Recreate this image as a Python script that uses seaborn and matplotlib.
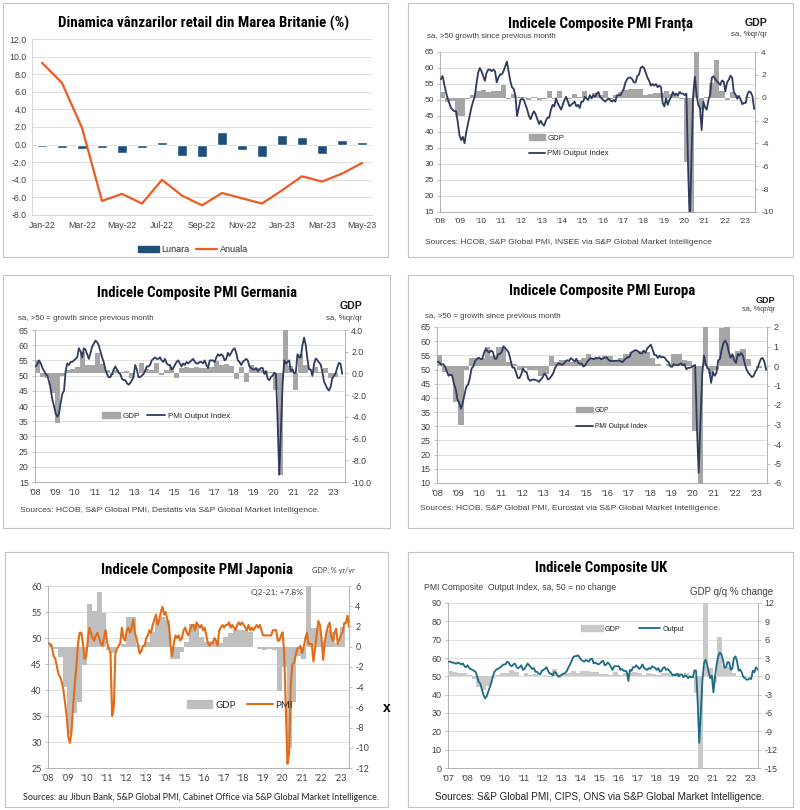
import numpy as np
import matplotlib
matplotlib.use('Agg')
import matplotlib.pyplot as plt
import seaborn as sns
from matplotlib import font_manager
from matplotlib.patches import Rectangle, Patch
from matplotlib.lines import Line2D

# ---- retail sales UK (monthly / yearly % change) ----
months = ['Jan-22', 'Feb-22', 'Mar-22', 'Apr-22', 'May-22', 'Jun-22', 'Jul-22', 'Aug-22', 'Sep-22',
          'Oct-22', 'Nov-22', 'Dec-22', 'Jan-23', 'Feb-23', 'Mar-23', 'Apr-23', 'May-23']
lunara = [-0.3, -0.4, -0.5, -0.4, -0.9, -0.4, 0.3, -1.3, -1.4, 1.4, -0.6, -1.4, 1.1, 0.9, -1.1, 0.5, 0.3]
anuala = [9.3, 7.0, 1.9, -6.4, -5.6, -6.7, -4.0, -5.8, -6.9, -5.5, -6.1, -6.7, -5.2, -3.6, -4.2, -3.3, -2.1]

# ---- France: composite PMI monthly from Jan-2008, GDP q/q from Q1-2008 ----
fr_pmi = [56.5, 57.5, 55.0, 52.5, 50.5, 49.0, 47.5, 47.0, 46.5, 46.5, 43.0, 39.0,
          37.5, 38.5, 36.5, 40.0, 42.5, 45.0, 47.5, 49.5, 51.0, 55.0, 58.5, 60.0,
          59.0, 57.5, 56.0, 58.5, 59.5, 59.5, 59.0, 59.5, 59.0, 55.5, 57.0, 58.0,
          58.0, 59.0, 60.5, 62.0, 59.0, 56.0, 54.0, 53.5, 51.5, 45.0, 47.5, 50.0,
          50.5, 50.0, 48.5, 47.0, 45.0, 44.0, 45.5, 46.5, 45.5, 44.0, 42.5, 43.5,
          42.5, 42.0, 43.5, 44.5, 44.5, 47.0, 48.5, 48.0, 50.5, 49.0, 48.0, 47.0,
          48.5, 50.0, 51.0, 49.5, 48.0, 48.5, 49.0, 49.5, 48.0, 48.5, 47.5, 49.5,
          49.5, 51.0, 50.5, 50.0, 51.5, 50.5, 51.5, 51.0, 52.0, 52.5, 51.0, 50.5,
          50.0, 49.5, 50.0, 50.5, 50.0, 49.5, 50.0, 49.5, 51.5, 51.5, 51.5, 52.5,
          53.5, 55.5, 56.5, 57.0, 57.0, 56.5, 55.5, 55.5, 57.5, 58.0, 60.0, 60.5,
          60.0, 58.5, 57.0, 56.0, 54.5, 55.0, 54.5, 55.0, 54.0, 54.5, 54.0, 49.0,
          48.0, 50.5, 48.5, 50.0, 51.0, 52.5, 51.5, 52.0, 51.5, 52.5, 52.0, 52.0,
          51.5, 52.0, 28.9, 11.1, 32.1, 51.7, 57.3, 51.6, 48.5, 47.5, 40.6, 49.5,
          47.7, 47.0, 50.0, 51.6, 57.0, 57.4, 56.6, 55.9, 55.3, 54.7, 56.1, 55.8,
          52.7, 55.5, 56.3, 57.6, 57.0, 52.5, 51.7, 50.4, 51.2, 50.2, 48.7, 49.1,
          49.1, 51.7, 52.7, 52.4, 51.2, 47.2]
fr_gdp = [0.5, -0.4, -0.3, -1.6, -1.6, -0.1, 0.2, 0.6, 0.7, 0.5, 0.6, 0.6,
          1.1, -0.1, 0.3, 0.1, 0.1, -0.2, 0.1, -0.2, -0.1, 0.6, -0.1, 0.6,
          0.0, -0.1, 0.3, 0.1, 0.6, 0.0, 0.4, 0.2, 0.6, -0.1, 0.2, 0.5,
          0.7, 0.8, 0.8, 0.8, 0.2, 0.3, 0.4, 0.4, 0.6, 0.3, 0.2, -0.1,
          -5.6, -13.5, 18.5, -1.1, 0.1, 1.3, 3.3, 0.6, -0.2, 0.5, 0.2, 0.0, 0.1]

# ---- Germany ----
de_pmi = [53.0, 54.0, 55.0, 54.0, 52.5, 51.5, 50.5, 50.0, 48.0, 45.5, 42.0, 40.0,
          37.5, 36.5, 37.5, 41.0, 44.0, 45.0, 51.5, 54.0, 53.5, 54.5, 54.5, 55.0,
          55.5, 56.0, 59.0, 58.0, 56.0, 59.0, 58.5, 57.0, 55.5, 57.5, 59.5, 60.5,
          61.5, 61.0, 60.0, 58.0, 56.0, 54.5, 52.0, 50.5, 49.5, 49.5, 50.5, 52.0,
          53.0, 52.0, 51.0, 50.5, 49.0, 48.5, 48.5, 47.5, 47.0, 47.5, 48.5, 49.5,
          53.5, 52.0, 49.5, 49.5, 50.0, 50.5, 51.5, 53.0, 53.0, 53.5, 55.0, 55.5,
          56.0, 55.5, 55.5, 56.0, 55.0, 54.5, 55.5, 54.0, 53.5, 53.5, 52.0, 52.5,
          53.5, 54.5, 55.0, 54.0, 53.0, 54.0, 53.5, 54.5, 54.0, 54.5, 55.0, 55.5,
          54.5, 54.0, 54.0, 54.5, 54.5, 54.0, 55.0, 53.5, 52.5, 55.0, 55.0, 55.0,
          54.5, 56.0, 57.0, 56.5, 57.0, 56.5, 55.0, 55.5, 57.5, 56.5, 57.5, 58.5,
          59.0, 57.5, 55.0, 54.5, 53.5, 54.5, 55.0, 55.5, 55.0, 53.0, 52.5, 52.0,
          52.0, 52.5, 51.5, 52.0, 52.5, 52.5, 50.5, 51.5, 49.0, 48.5, 49.5, 50.0,
          51.0, 50.5, 35.0, 17.4, 32.0, 47.0, 55.0, 54.0, 54.5, 55.0, 51.5, 52.0,
          50.8, 51.0, 57.0, 56.0, 56.0, 60.0, 62.5, 60.0, 55.5, 52.0, 52.0, 49.9,
          53.8, 55.6, 55.1, 54.3, 53.7, 51.3, 48.1, 46.9, 45.7, 45.1, 46.3, 49.0,
          49.9, 50.7, 52.6, 54.2, 53.9, 50.6]
de_gdp = [1.2, -0.3, -0.4, -1.8, -4.6, -0.2, 0.3, 0.4, 0.6, 2.0, 0.8, 0.8,
          1.9, 0.9, 0.3, -0.1, 0.3, 0.1, 0.2, -0.4, 0.0, 1.0, 0.4, 0.3,
          1.0, -0.1, 0.3, 0.6, -0.45, 0.5, 0.6, 0.5, 0.6, 0.5, 0.5, 0.6,
          1.1, 0.8, 0.9, 0.7, -0.55, 0.6, -0.75, 0.8, 0.5, 0.3, 0.2, 0.1,
          -1.5, -9.4, 8.7, 0.7, -1.5, 1.8, 0.8, 0.0, 0.6, 0.1, 0.5, -0.4, -0.3]

# ---- Eurozone ----
ez_pmi = [52.8, 52.3, 51.7, 51.9, 51.1, 49.5, 47.8, 48.2, 48.0, 45.1, 43.2, 39.5,
          38.3, 36.2, 38.3, 41.1, 44.0, 44.6, 47.0, 50.4, 51.1, 53.0, 53.7, 54.2,
          53.7, 53.7, 55.9, 57.3, 56.4, 56.0, 56.7, 56.2, 53.8, 53.8, 55.4, 55.5,
          56.3, 58.2, 57.5, 56.8, 55.8, 53.3, 50.7, 50.7, 49.1, 47.1, 47.0, 48.3,
          50.4, 49.3, 49.1, 46.7, 46.0, 46.4, 46.5, 46.3, 46.1, 45.7, 46.5, 47.2,
          48.6, 47.9, 46.5, 46.9, 47.7, 48.7, 50.5, 51.5, 52.2, 51.9, 51.7, 52.1,
          52.9, 53.3, 53.1, 54.0, 53.5, 52.8, 53.8, 52.5, 52.0, 52.1, 51.1, 51.4,
          52.6, 53.3, 54.0, 53.9, 53.6, 54.2, 53.9, 54.3, 53.6, 53.9, 54.2, 54.3,
          53.6, 53.0, 53.1, 53.0, 53.1, 53.1, 53.2, 52.9, 52.6, 53.3, 53.9, 54.4,
          54.4, 56.0, 56.4, 56.8, 56.8, 56.3, 55.7, 55.7, 56.7, 55.9, 57.5, 58.1,
          58.8, 57.1, 55.2, 55.1, 54.1, 54.9, 54.3, 54.5, 54.1, 53.1, 52.7, 51.1,
          51.0, 51.9, 51.6, 51.5, 51.8, 52.2, 51.5, 51.9, 50.1, 50.6, 50.6, 50.9,
          51.3, 51.6, 29.7, 13.6, 31.9, 48.5, 54.9, 51.9, 50.4, 50.0, 45.3, 49.1,
          47.8, 48.8, 53.2, 53.8, 57.1, 59.5, 60.2, 59.0, 56.2, 54.2, 55.4, 53.3,
          52.3, 55.5, 54.9, 55.8, 54.8, 52.0, 49.9, 48.9, 48.1, 47.3, 47.8, 49.3,
          50.3, 52.0, 53.7, 54.1, 52.8, 49.9]
ez_gdp = [0.55, -0.3, -0.5, -1.85, -3.0, -0.2, 0.4, 0.4, 0.4, 1.0, 0.5, 1.0,
          1.0, 0.2, 0.1, -0.2, -0.1, -0.2, -0.2, -0.5, -0.4, 0.5, 0.2, 0.3,
          0.3, 0.2, 0.3, 0.4, 0.6, 0.4, 0.4, 0.5, 0.5, 0.3, 0.4, 0.6,
          0.7, 0.75, 0.75, 0.7, 0.4, 0.1, 0.0, 0.1, 0.6, 0.6, 0.3, 0.25,
          -3.35, -11.5, 12.5, -0.4, -0.2, 1.95, 2.05, 0.5, 0.75, 0.85, 0.35, 0.0, -0.1]

# ---- Japan (GDP y/y) ----
jp_pmi = [49.0, 48.8, 48.0, 46.5, 46.0, 44.5, 43.0, 42.5, 41.5, 40.0, 37.5, 35.0,
          31.0, 29.8, 32.0, 37.0, 41.0, 44.5, 49.0, 51.0, 51.0, 49.0, 46.0, 46.5,
          49.5, 52.0, 51.0, 50.0, 49.5, 50.5, 51.0, 50.0, 49.0, 48.5, 50.0, 51.5,
          49.0, 48.0, 47.0, 35.0, 36.5, 47.0, 48.0, 48.5, 49.0, 52.0, 50.0, 49.5,
          51.5, 52.0, 51.0, 52.0, 53.5, 51.0, 50.0, 48.5, 47.0, 47.5, 48.5, 48.5,
          50.0, 50.5, 51.5, 51.0, 52.5, 53.5, 54.5, 52.5, 53.5, 55.0, 56.0, 54.5,
          55.0, 53.5, 52.5, 48.5, 46.5, 49.0, 50.5, 50.0, 50.5, 49.5, 50.0, 51.5,
          52.0, 51.0, 50.5, 51.5, 52.5, 52.5, 51.5, 53.0, 52.5, 52.0, 52.5, 51.5,
          52.0, 50.5, 49.0, 48.5, 49.0, 49.0, 50.0, 49.5, 48.5, 51.5, 52.0, 52.5,
          52.0, 52.5, 52.5, 53.0, 52.0, 52.5, 52.0, 51.5, 52.5, 53.0, 52.5, 53.0,
          52.5, 52.0, 51.5, 52.5, 51.5, 52.0, 51.5, 52.0, 52.5, 52.0, 52.5, 51.5,
          50.5, 50.5, 50.5, 50.5, 50.5, 50.5, 51.5, 51.5, 51.5, 49.5, 49.5, 50.5,
          51.1, 47.0, 36.2, 25.8, 27.8, 40.8, 44.9, 45.2, 46.6, 48.0, 48.1, 48.5,
          47.1, 48.2, 49.9, 51.0, 48.8, 48.9, 48.8, 45.5, 47.9, 50.7, 53.3, 52.5,
          49.9, 45.8, 49.3, 51.1, 52.3, 53.0, 50.2, 49.4, 51.0, 51.8, 48.9, 49.7,
          50.7, 51.1, 52.9, 52.9, 54.3, 52.1]
jp_gdp = [0.3, -0.2, -1.0, -4.0, -8.6, -6.6, -5.5, -1.8, 4.2, 3.5, 5.4, 3.3,
          -0.3, -0.6, 0.0, 0.3, 2.9, 2.9, 0.2, 0.0, 0.5, 1.5, 2.6, 2.9,
          2.6, -1.2, -1.2, -0.5, 0.5, 2.2, 2.2, 1.0, 0.5, 0.6, 0.5, 0.4,
          1.0, 1.4, 1.6, 1.6, 1.6, 1.5, 0.0, -0.2, -0.3, -0.2, -0.3, -4.4,
          -2.0, -10.0, -5.5, -0.9, -1.2, 7.8, 1.8, 1.8, 0.5, 1.6, 1.5, 0.4, 1.9]

# ---- UK, monthly from Jan-2007 ----
uk_pmi = [58.0, 58.0, 57.5, 57.5, 57.0, 57.0, 57.5, 57.0, 56.5, 57.0, 55.5, 55.0,
          56.0, 54.5, 54.0, 53.5, 53.0, 52.5, 50.0, 47.0, 46.0, 43.0, 40.0, 38.0,
          39.0, 41.5, 44.0, 46.5, 50.0, 52.5, 53.5, 54.0, 54.5, 55.0, 56.0, 56.5,
          56.5, 58.0, 57.5, 56.0, 55.5, 56.5, 57.0, 55.0, 54.5, 55.0, 56.0, 53.5,
          54.0, 55.5, 57.0, 56.0, 55.0, 54.0, 54.5, 52.5, 52.5, 51.5, 51.0, 53.0,
          53.5, 54.0, 55.0, 53.0, 51.5, 51.5, 50.5, 52.5, 52.0, 50.5, 50.0, 50.5,
          51.0, 51.5, 52.0, 53.0, 55.0, 56.5, 58.5, 60.5, 61.0, 61.0, 61.5, 60.5,
          59.0, 58.5, 58.0, 59.0, 58.5, 58.0, 59.5, 59.5, 57.0, 57.5, 57.0, 56.5,
          57.0, 58.0, 58.5, 56.0, 56.5, 57.5, 56.5, 55.0, 53.5, 55.5, 55.5, 55.5,
          55.5, 53.5, 54.0, 53.0, 53.0, 52.5, 47.5, 53.5, 53.0, 55.0, 55.0, 56.0,
          55.0, 54.0, 55.0, 56.5, 54.5, 54.0, 53.5, 54.5, 54.0, 55.5, 55.0, 54.5,
          53.5, 54.5, 52.5, 53.0, 54.5, 55.0, 53.5, 54.0, 53.0, 52.0, 50.5, 51.0,
          50.5, 51.5, 50.0, 51.0, 51.0, 49.5, 50.5, 50.0, 49.0, 50.0, 49.5, 49.5,
          53.3, 53.0, 36.0, 13.8, 30.0, 47.7, 57.0, 59.1, 56.5, 52.1, 49.0, 50.4,
          41.2, 49.6, 56.4, 60.7, 62.9, 62.2, 59.2, 54.8, 54.9, 57.8, 57.6, 53.6,
          54.2, 59.9, 60.9, 58.2, 53.1, 53.7, 52.1, 49.6, 49.1, 48.2, 48.2, 49.0,
          48.5, 53.1, 52.2, 54.9, 54.0, 52.8]
uk_gdp = [0.9, 0.7, 0.6, 0.5, 0.3, -0.5, -1.7, -2.2, -1.6, -0.2, 0.2, 0.5,
          0.6, 1.0, 0.7, 0.1, 0.5, 0.2, 0.4, 0.1, 0.2, -0.1, 1.2, -0.2,
          0.5, 0.6, 0.8, 0.5, 0.9, 0.8, 0.7, 0.7, 0.4, 0.4, 0.3, 0.7,
          0.3, 0.5, 0.5, 0.7, 0.6, 0.3, 0.5, 0.4, 0.2, 0.5, 0.6, 0.2,
          0.6, -0.1, 0.5, 0.0, -2.7, -21.0, 16.9, 1.3, -1.1, 6.5, 1.7, 1.5,
          0.5, 0.1, -0.1, 0.1, 0.1]

W, H = 800, 810

sns.set_style('white')
plt.rcParams['font.family'] = ['Liberation Sans', 'DejaVu Sans']
plt.rcParams['axes.unicode_minus'] = False

# a narrow bold face for the titles, whichever is installed
_fonts = font_manager.fontManager.ttflist
_names = {f.name for f in _fonts}
TITLE_KW = {'family': ['Roboto', 'DejaVu Sans'], 'fontweight': 'bold'}
for cand in ['Liberation Sans Narrow', 'Roboto Condensed', 'Open Sans Condensed']:
    if cand in _names:
        TITLE_KW = {'family': [cand, 'DejaVu Sans'], 'fontweight': 'bold'}
        break
else:
    if any(f.name == 'DejaVu Sans' and f.stretch == 'condensed' for f in _fonts):
        TITLE_KW = {'family': ['DejaVu Sans'], 'fontweight': 'bold', 'fontstretch': 'condensed'}

fig = plt.figure(figsize=(8, 8.1), dpi=100)
renderer = fig.canvas.get_renderer()


def rect(l, t, r, b):
    return [l / W, 1 - b / H, (r - l) / W, (b - t) / H]


def put(x, y, s, **kw):
    kw.setdefault('va', 'center')
    kw.setdefault('color', '#404040')
    return fig.text(x / W, 1 - y / H, s, **kw)


def fpos(x, y):
    return (x / W, 1 - y / H)


def title(x, y, s, width_px):
    # scale the title so it spans the same width as in the source picture
    t = put(x, y, s, ha='center', fontsize=12, color='black', **TITLE_KW)
    w = t.get_window_extent(renderer).width
    t.set_fontsize(min(12 * width_px / w, 12))
    return t


# panel frames
for l, t, r, b in [(3, 3, 388, 257), (408, 3, 793, 257), (3, 275, 390, 528),
                   (408, 275, 793, 528), (5, 552, 388, 807), (408, 552, 793, 807)]:
    fig.add_artist(Rectangle((l / W, 1 - b / H), (r - l) / W, (b - t) / H,
                             transform=fig.transFigure, fill=False, ec='#C3C3C3', lw=0.8))

# ---------------- retail sales panel ----------------
ax = fig.add_axes(rect(32, 39, 372, 215))
sns.barplot(x=months, y=lunara, color='#1F4E79', width=0.5, saturation=1, ax=ax)
sns.lineplot(x=np.arange(len(months)), y=anuala, color='#EE5A24', lw=1.6, ax=ax)
ax.set_xlim(-0.5, len(months) - 0.5)
ax.set_ylim(-8, 12)
ax.set_yticks(np.arange(-8, 13, 2))
ax.yaxis.set_major_formatter('{x:.1f}')
ax.set_xticks(range(0, len(months), 2))
ax.set_xticklabels(months[::2])
ax.set_xlabel('')
ax.set_ylabel('')
ax.grid(axis='y', color='#D9D9D9', lw=0.6)
ax.set_axisbelow(True)
ax.tick_params(labelsize=6.3, labelcolor='#404040', length=0, pad=4)
for s in ['top', 'right']:
    ax.spines[s].set_visible(False)
for s in ['left', 'bottom']:
    ax.spines[s].set_color('#D0D0D0')
    ax.spines[s].set_linewidth(0.6)
ax.legend([Patch(color='#1F4E79'), Line2D([], [], color='#EE5A24', lw=1.6)], ['Lunara', 'Anuala'],
          loc='center', bbox_to_anchor=fpos(193, 250), bbox_transform=fig.transFigure, ncol=2,
          frameon=False, fontsize=6.5, handlelength=2.3, handleheight=0.6, handletextpad=0.3,
          columnspacing=0.7, borderpad=0)
title(204, 23, 'Dinamica vânzarilor retail din Marea Britanie (%)', 292)


# ---------------- PMI panels ----------------
def pmi_panel(box, start, pmi, gdp, xlim, yl, yl_step, yr, yr_step, line_color, bar_color,
              rfmt='{x:.0f}', tick_size=6.0, font=None, lw=1.3):
    ax = fig.add_axes(rect(*box))
    ax_gdp = ax.twinx()
    ax_pmi = ax.twinx()
    t_m = start + (np.arange(len(pmi)) + 0.5) / 12
    t_q = start + np.arange(len(gdp)) / 4
    ax_gdp.bar(t_q, gdp, width=0.25, align='edge', color=bar_color, lw=0)
    sns.lineplot(x=t_m, y=pmi, ax=ax_pmi, color=line_color, lw=lw)

    ax.set_xlim(*xlim)
    ax.set_ylim(*yl)
    ax_pmi.set_ylim(*yl)
    ax_gdp.set_ylim(*yr)
    ax.set_yticks(np.arange(yl[0], yl[1] + 0.01, yl_step))
    ax_gdp.set_yticks(np.arange(yr[0], yr[1] + 0.01, yr_step))
    ax_gdp.yaxis.set_major_formatter(rfmt)
    ax_pmi.set_yticks([])
    years = np.arange(int(np.ceil(xlim[0])), int(xlim[1]) + 1)
    ax.set_xticks(years)
    ax.set_xticklabels(["'%02d" % (y % 100) for y in years])
    ax.grid(axis='y', color='#D9D9D9', lw=0.6)
    ax.set_axisbelow(True)
    for a in (ax, ax_gdp, ax_pmi):
        a.set_xlabel('')
        a.set_ylabel('')
        for s in a.spines.values():
            s.set_visible(False)
            s.set_color('#A6A6A6')
            s.set_linewidth(0.6)
        a.tick_params(labelsize=tick_size, labelcolor='#404040', color='#A6A6A6',
                      length=2.5, width=0.5, pad=2, direction='out')
        if font:
            for lab in a.get_xticklabels() + a.get_yticklabels():
                lab.set_family(font)
    ax.spines['left'].set_visible(True)
    ax.spines['bottom'].set_visible(True)
    ax_gdp.spines['right'].set_visible(True)
    # the top layer carries the legend so the line never hides its text
    return ax_pmi


NAVY = '#2E3A5E'

# France
top = pmi_panel((440, 52, 755, 212), 2008, fr_pmi, fr_gdp, (2008, 2023.5), (15, 65), 5, (-10, 4), 2,
                NAVY, '#A6A6A6')
top.legend([Patch(color='#A6A6A6'), Line2D([], [], color=NAVY, lw=1.3)], ['GDP', 'PMI Output Index'],
           loc='upper left', bbox_to_anchor=fpos(529, 134), bbox_transform=fig.transFigure,
           frameon=False, fontsize=5.7, handlelength=2.0, handleheight=0.7, handletextpad=0.3,
           labelspacing=1.05, borderpad=0, borderaxespad=0)
title(601, 24, 'Indicele Composite PMI Franța', 185)
put(767, 23, 'GDP', ha='right', fontweight='bold', fontsize=7.6, color='#1A1A1A')
put(767, 35, 'sa, %qr/qr', ha='right', fontsize=5.7)
put(427, 37, 'sa, >50 growth since previous month', ha='left', fontsize=5.7)
put(425, 242, 'Sources: HCOB, S&P Global PMI, INSEE via S&P Global Market Intelligence',
    ha='left', fontsize=6.0)

# Germany
top = pmi_panel((35, 330, 345, 482), 2008, de_pmi, de_gdp, (2008, 2023.6), (15, 65), 5, (-10, 4), 2,
                NAVY, '#A6A6A6', rfmt='{x:.1f}', tick_size=6.3)
top.legend([Patch(color='#A6A6A6'), Line2D([], [], color=NAVY, lw=1.3)], ['GDP', 'PMI Output Index'],
           loc='center left', bbox_to_anchor=fpos(102, 416), bbox_transform=fig.transFigure, ncol=2,
           frameon=False, fontsize=5.8, handlelength=2.2, handleheight=0.7, handletextpad=0.3,
           columnspacing=1.0, borderpad=0, borderaxespad=0)
title(197, 293, 'Indicele Composite PMI Germania', 200)
put(362, 306, 'GDP', ha='right', fontweight='bold', fontsize=7.6, color='#1A1A1A')
put(362, 318, 'sa, %qr/qr', ha='right', fontsize=5.7)
put(18, 318, 'sa, >50 = growth since previous month', ha='left', fontsize=5.7)
put(20, 510, 'Sources: HCOB, S&P Global PMI, Destatis via S&P Global Market Intelligence.',
    ha='left', fontsize=6.1)

# Eurozone
top = pmi_panel((437, 327, 767, 483), 2008, ez_pmi, ez_gdp, (2008, 2023.5), (10, 65), 5, (-6, 2), 1,
                NAVY, '#A6A6A6', tick_size=6.5)
top.legend([Patch(color='#A6A6A6'), Line2D([], [], color=NAVY, lw=1.3)], ['GDP', 'PMI Output Index'],
           loc='upper left', bbox_to_anchor=fpos(576, 407), bbox_transform=fig.transFigure,
           frameon=False, fontsize=4.8, handlelength=2.5, handleheight=0.7, handletextpad=0.3,
           labelspacing=1.4, borderpad=0, borderaxespad=0)
title(602, 291, 'Indicele Composite PMI Europa', 187)
put(775, 301, 'GDP', ha='right', fontweight='bold', fontsize=6.5, color='#1A1A1A')
put(775, 310, 'sa, %qr/qr', ha='right', fontsize=5.3)
put(425, 317, 'sa, >50 = growth since previous month', ha='left', fontsize=5.7)
put(420, 509, 'Sources: HCOB, S&P Global PMI, Eurostat via S&P Global Market Intelligence.',
    ha='left', fontsize=6.1)

# Japan
JP_ORANGE = '#E36C14'
LATO = ['Lato', 'DejaVu Sans']
top = pmi_panel((48, 586, 349, 768), 2008, jp_pmi, jp_gdp, (2008, 2023.45), (25, 60), 5, (-12, 6), 2,
                JP_ORANGE, '#BFBFBF', tick_size=6.5, font=LATO, lw=1.5)
top.legend([Patch(color='#BFBFBF'), Line2D([], [], color=JP_ORANGE, lw=1.5)], ['GDP', 'PMI'],
           loc='center left', bbox_to_anchor=fpos(187, 705), bbox_transform=fig.transFigure, ncol=2,
           frameon=False, prop={'family': LATO, 'size': 7}, handlelength=2.6,
           handleheight=0.8, handletextpad=0.3, columnspacing=1.2, borderpad=0, borderaxespad=0)
title(197, 570, 'Indicele Composite PMI Japonia', 193)
put(312, 570, 'GDP, % yr/yr', ha='left', fontsize=5.3, family=LATO)
put(277, 593, 'Q2-21: +7.8%', ha='center', fontsize=6, family=LATO)
put(23, 798, 'Sources: au Jibun Bank, S&P Global PMI, Cabinet Office via S&P Global Market Intelligence.',
    ha='left', fontsize=6.4, family=LATO, color='#262626')
put(387, 708, 'x', ha='center', fontweight='bold', fontsize=10, color='black')

# UK
UK_TEAL = '#1B6A86'
top = pmi_panel((448, 603, 758, 768), 2007, uk_pmi, uk_gdp, (2007, 2023.4), (0, 90), 10, (-15, 12), 3,
                UK_TEAL, '#C9C9C9', tick_size=6.5)
top.legend([Patch(color='#C9C9C9'), Line2D([], [], color=UK_TEAL, lw=1.3)], ['GDP', 'Output'],
           loc='center left', bbox_to_anchor=fpos(581, 629), bbox_transform=fig.transFigure, ncol=2,
           frameon=False, fontsize=5.2, handlelength=3.0, handleheight=0.7, handletextpad=0.3,
           columnspacing=2.5, borderpad=0, borderaxespad=0)
title(601, 568, 'Indicele Composite UK', 133)
put(424, 588, 'PMI Composite  Output Index, sa, 50 = no change', ha='left', fontsize=6.2)
put(773, 592, 'GDP q/q % change', ha='right', fontsize=7)
put(600, 797, 'Sources: S&P Global PMI, CIPS, ONS via S&P Global Market Intelligence.',
    ha='center', fontsize=7.2, color='#262626')

fig.savefig('out.png', dpi=100)
plt.close(fig)
